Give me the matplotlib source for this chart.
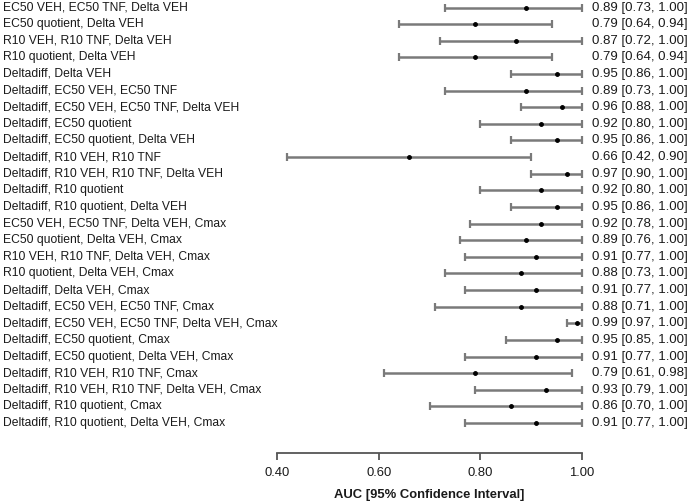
import matplotlib
matplotlib.use("Agg")
import matplotlib.pyplot as plt
import matplotlib.transforms as mtransforms
import numpy as np

plt.rcParams["font.family"] = ["Liberation Sans", "DejaVu Sans"]

labels = [
    "EC50 VEH, EC50 TNF, Delta VEH",
    "EC50 quotient, Delta VEH",
    "R10 VEH, R10 TNF, Delta VEH",
    "R10 quotient, Delta VEH",
    "Deltadiff, Delta VEH",
    "Deltadiff, EC50 VEH, EC50 TNF",
    "Deltadiff, EC50 VEH, EC50 TNF, Delta VEH",
    "Deltadiff, EC50 quotient",
    "Deltadiff, EC50 quotient, Delta VEH",
    "Deltadiff, R10 VEH, R10 TNF",
    "Deltadiff, R10 VEH, R10 TNF, Delta VEH",
    "Deltadiff, R10 quotient",
    "Deltadiff, R10 quotient, Delta VEH",
    "EC50 VEH, EC50 TNF, Delta VEH, Cmax",
    "EC50 quotient, Delta VEH, Cmax",
    "R10 VEH, R10 TNF, Delta VEH, Cmax",
    "R10 quotient, Delta VEH, Cmax",
    "Deltadiff, Delta VEH, Cmax",
    "Deltadiff, EC50 VEH, EC50 TNF, Cmax",
    "Deltadiff, EC50 VEH, EC50 TNF, Delta VEH, Cmax",
    "Deltadiff, EC50 quotient, Cmax",
    "Deltadiff, EC50 quotient, Delta VEH, Cmax",
    "Deltadiff, R10 VEH, R10 TNF, Cmax",
    "Deltadiff, R10 VEH, R10 TNF, Delta VEH, Cmax",
    "Deltadiff, R10 quotient, Cmax",
    "Deltadiff, R10 quotient, Delta VEH, Cmax",
]
auc = [0.89, 0.79, 0.87, 0.79, 0.95, 0.89, 0.96, 0.92, 0.95, 0.66, 0.97, 0.92, 0.95,
       0.92, 0.89, 0.91, 0.88, 0.91, 0.88, 0.99, 0.95, 0.91, 0.79, 0.93, 0.86, 0.91]
lower = [0.73, 0.64, 0.72, 0.64, 0.86, 0.73, 0.88, 0.80, 0.86, 0.42, 0.90, 0.80, 0.86,
         0.78, 0.76, 0.77, 0.73, 0.77, 0.71, 0.97, 0.85, 0.77, 0.61, 0.79, 0.70, 0.77]
upper = [1.00, 0.94, 1.00, 0.94, 1.00, 1.00, 1.00, 1.00, 1.00, 0.90, 1.00, 1.00, 1.00,
         1.00, 1.00, 1.00, 1.00, 1.00, 1.00, 1.00, 1.00, 1.00, 0.98, 1.00, 1.00, 1.00]
xticks = [0.40, 0.60, 0.80, 1.00]

W, H = 690, 504
fig = plt.figure(figsize=(W / 100, H / 100), dpi=100)

# axes placed so 0.40 -> x=277px and 1.00 -> x=582px
ax_left, ax_right = 277, 582
ax_top, ax_bottom = 0, 453
ax = fig.add_axes([ax_left / W, 1 - ax_bottom / H, (ax_right - ax_left) / W, (ax_bottom - ax_top) / H])

n = len(labels)
y = np.arange(n)
row_h = (423 - 7.5) / (n - 1)
ax.set_ylim(ax_bottom / row_h - 7.5 / row_h, -7.5 / row_h)
ax.set_xlim(0.40, 1.00)

line_col = "#7a7a7a"
ax.hlines(y, lower, upper, color=line_col, lw=1.8, clip_on=False)
ax.plot(lower, y, linestyle="none", marker="|", ms=6, mew=1.6, color=line_col, clip_on=False)
ax.plot(upper, y, linestyle="none", marker="|", ms=6, mew=1.6, color=line_col, clip_on=False)
ax.plot(auc, y, linestyle="none", marker="o", ms=2.5, color="black", clip_on=False, zorder=5)

text_col = "#1a1a1a"
trans_left = mtransforms.blended_transform_factory(fig.transFigure, ax.transData)
for yi, lab in zip(y, labels):
    ax.text(3 / W, yi, lab, transform=trans_left, ha="left", va="center",
            fontsize=8.7, color=text_col, clip_on=False)
for yi, a, lo, hi in zip(y, auc, lower, upper):
    ax.text(592 / W, yi, f"{a:.2f} [{lo:.2f}, {hi:.2f}]", transform=trans_left,
            ha="left", va="center", fontsize=9.5, color=text_col, clip_on=False)

for s in ["left", "top", "right"]:
    ax.spines[s].set_visible(False)
ax.spines["bottom"].set_color("#555555")
ax.spines["bottom"].set_linewidth(1.3)
ax.set_yticks([])
ax.set_xticks(xticks)
ax.set_xticklabels([f"{t:.2f}" for t in xticks])
ax.tick_params(axis="x", direction="out", length=5, width=1.3, color="#555555",
               labelsize=9.4, labelcolor=text_col, pad=5)
ax.set_xlabel("AUC [95% Confidence Interval]", fontsize=9.4, fontweight="bold",
              color=text_col, labelpad=7)

fig.savefig("out.png", dpi=100)
